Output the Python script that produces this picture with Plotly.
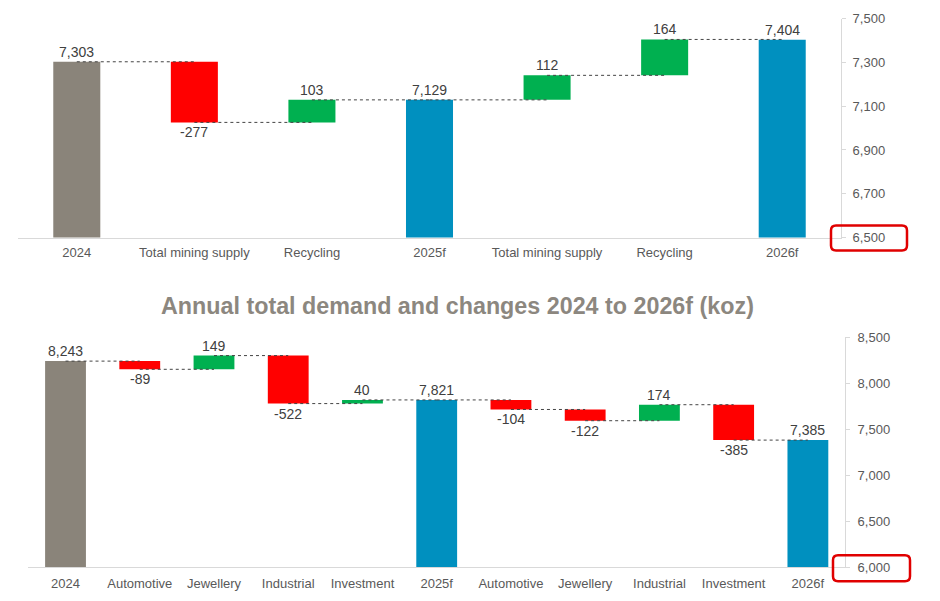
import plotly.graph_objects as go

W, H = 940, 612
# empirical page mapping of the screenshot: y_screen = S * (y_fig + OFF)
S, OFF = 0.976, 6.5

# ---- data: top chart (supply, koz) ----
supply_cats = ["2024", "Total mining supply", "Recycling", "2025f", "Total mining supply", "Recycling", "2026f"]
supply_vals = [7303, -277, 103, 7129, 112, 164, 7404]
supply_kind = ["start", "delta", "delta", "total", "delta", "delta", "total"]
supply_ticks = [6500, 6700, 6900, 7100, 7300, 7500]

# ---- data: bottom chart (demand, koz) ----
demand_cats = ["2024", "Automotive", "Jewellery", "Industrial", "Investment", "2025f",
               "Automotive", "Jewellery", "Industrial", "Investment", "2026f"]
demand_vals = [8243, -89, 149, -522, 40, 7821, -104, -122, 174, -385, 7385]
demand_kind = ["start", "delta", "delta", "delta", "delta", "total",
               "delta", "delta", "delta", "delta", "total"]
demand_ticks = [6000, 6500, 7000, 7500, 8000, 8500]

title_text = "Annual total demand and changes 2024 to 2026f (koz)"

C_START = "#8A847A"
C_TOTAL = "#0090BF"
C_UP = "#00B050"
C_DOWN = "#FF0000"
C_LABEL = "#404040"
C_TICK = "#595959"
C_AXIS = "#D9D9D9"
FONT = "Liberation Sans, Arial, sans-serif"


def px_x(p):
    return p / W


def px_y(p):
    return 1 - (p / S - OFF) / H


fig = go.Figure()


def add_waterfall(cats, vals, kinds, xa, ya, width):
    pos = list(range(len(cats)))
    bases, heights, colors, ends = [], [], [], []
    level = 0
    for v, k in zip(vals, kinds):
        if k in ("start", "total"):
            bases.append(0)
            heights.append(v)
            colors.append(C_START if k == "start" else C_TOTAL)
            level = v
        else:
            bases.append(level)
            heights.append(v)
            colors.append(C_UP if v > 0 else C_DOWN)
            level = level + v
        ends.append(level)
    fig.add_trace(go.Bar(x=pos, y=heights, base=bases, marker_color=colors,
                         marker_line_width=0, width=width, xaxis=xa, yaxis=ya,
                         showlegend=False, hoverinfo="skip"))
    # connectors: center to center at running level
    for i in range(len(cats) - 1):
        fig.add_trace(go.Scatter(x=[pos[i], pos[i + 1]], y=[ends[i], ends[i]],
                                 mode="lines", line=dict(color="#444444", width=1, dash="dot"),
                                 xaxis=xa, yaxis=ya, showlegend=False, hoverinfo="skip"))
    # labels
    for p, v, k, e in zip(pos, vals, kinds, ends):
        anchor = "top" if (k == "delta" and v < 0) else "bottom"
        fig.add_annotation(x=p, y=e, xref=xa, yref=ya, text=f"{v:,}", showarrow=False,
                           yanchor=anchor, font=dict(size=14, color=C_LABEL, family=FONT))
    return pos


pos_top = add_waterfall(supply_cats, supply_vals, supply_kind, "x", "y", 0.4)
pos_bot = add_waterfall(demand_cats, demand_vals, demand_kind, "x2", "y2", 0.55)

axis_common = dict(showgrid=False, zeroline=False)

fig.update_layout(
    width=W, height=H, margin=dict(l=0, r=0, t=0, b=0),
    paper_bgcolor="white", plot_bgcolor="white",
    font=dict(family=FONT, color=C_TICK),
    xaxis=dict(domain=[px_x(18), px_x(841)], range=[-0.5, len(pos_top) - 0.5],
               tickvals=pos_top, ticktext=supply_cats, showline=True, linecolor=C_AXIS,
               linewidth=1, ticks="outside", ticklen=3, tickcolor="rgba(0,0,0,0)",
               tickfont=dict(size=13, color=C_TICK), anchor="y", **axis_common),
    yaxis=dict(domain=[px_y(237), px_y(18)], range=[6500, 7500], side="right", anchor="x",
               tickvals=supply_ticks, ticktext=[f"{t:,}" for t in supply_ticks],
               showline=True, linecolor=C_AXIS, ticks="outside", ticklen=4, tickcolor=C_AXIS,
               ticklabelstandoff=4,
               tickfont=dict(size=13, color=C_TICK), **axis_common),
    xaxis2=dict(domain=[px_x(28.4), px_x(845)], range=[-0.5, len(pos_bot) - 0.5],
                tickvals=pos_bot, ticktext=demand_cats, showline=True, linecolor=C_AXIS,
                linewidth=1, ticks="outside", ticklen=4, tickcolor="rgba(0,0,0,0)",
                tickfont=dict(size=13, color=C_TICK), anchor="y2", **axis_common),
    yaxis2=dict(domain=[px_y(567), px_y(337)], range=[6000, 8500], side="right", anchor="x2",
                tickvals=demand_ticks, ticktext=[f"{t:,}" for t in demand_ticks],
                showline=True, linecolor=C_AXIS, ticks="outside", ticklen=4, tickcolor=C_AXIS,
                ticklabelstandoff=5,
                tickfont=dict(size=13, color=C_TICK), **axis_common),
)

fig.add_annotation(x=px_x(457), y=px_y(305), xref="paper", yref="paper", text=f"<b>{title_text}</b>",
                   showarrow=False, font=dict(size=23.3, color="#8C877F", family=FONT))


def rounded_box(x0, y0, x1, y1, r):
    X = lambda p: f"{px_x(p):.5f}"
    Y = lambda p: f"{px_y(p):.5f}"
    return (f"M {X(x0 + r)},{Y(y0)} L {X(x1 - r)},{Y(y0)} Q {X(x1)},{Y(y0)} {X(x1)},{Y(y0 + r)} "
            f"L {X(x1)},{Y(y1 - r)} Q {X(x1)},{Y(y1)} {X(x1 - r)},{Y(y1)} "
            f"L {X(x0 + r)},{Y(y1)} Q {X(x0)},{Y(y1)} {X(x0)},{Y(y1 - r)} "
            f"L {X(x0)},{Y(y0 + r)} Q {X(x0)},{Y(y0)} {X(x0 + r)},{Y(y0)} Z")


for box in [(831, 225, 907, 250), (833, 555, 910, 581)]:
    fig.add_shape(type="path", path=rounded_box(*box, 5), xref="paper", yref="paper",
                  line=dict(color="#E00000", width=2.5))

fig.write_html("out.html", config={"displayModeBar": False},
               post_script="document.body.style.margin='0';document.body.style.overflow='hidden';")
